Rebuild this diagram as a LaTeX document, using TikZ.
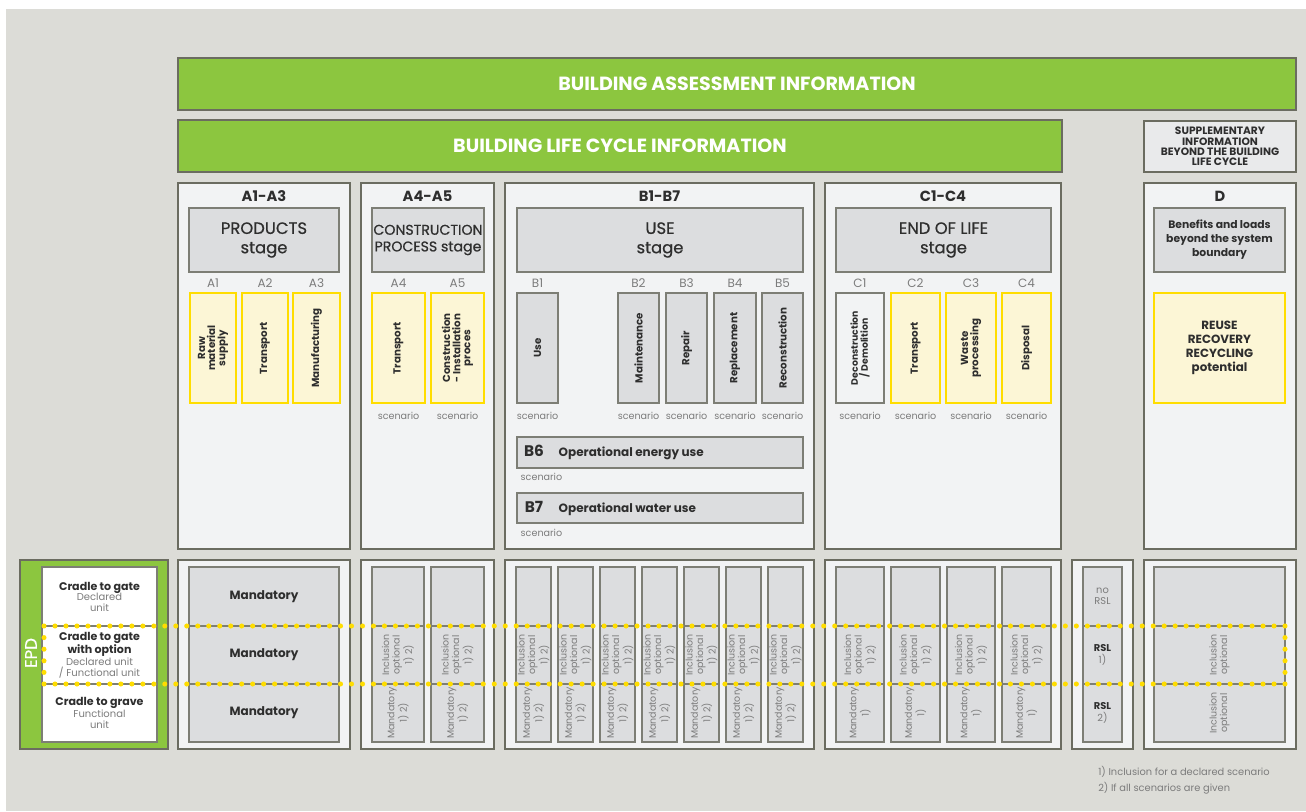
\documentclass[tikz,border=0pt]{standalone}
\usepackage{fontspec}
\setmainfont{Poppins}
\newfontfamily\medf{Poppins}[FakeBold=0.6]
\definecolor{bgc}{HTML}{DCDCD7}
\definecolor{framec}{HTML}{F2F3F4}
\definecolor{boxc}{HTML}{DCDDDF}
\definecolor{bordc}{HTML}{6B6C60}
\definecolor{ibord}{HTML}{7D7E75}
\definecolor{greenc}{HTML}{8CC63F}
\definecolor{yelc}{HTML}{FFDD00}
\definecolor{yelfill}{HTML}{FCF6D6}
\definecolor{darkc}{HTML}{2E2E2E}
\definecolor{lightc}{HTML}{7C7C7C}
\definecolor{suppc}{HTML}{E9EAEB}
\newcommand{\mybx}[7]{\node[#1, anchor=north west, minimum width={(#5-#3)*0.75pt}, minimum height={(#6-#4)*0.75pt}, inner sep=0pt, outer sep=0pt] (#2) at (#3,#4) {#7};}
\begin{document}
\begin{tikzpicture}[x=0.75pt,y=-0.75pt,
  frame/.style={draw=bordc, line width=1.5pt, fill=framec},
  greenbar/.style={draw=bordc, line width=1.5pt, fill=greenc},
  suppbox/.style={draw=bordc, line width=1.5pt, fill=suppc, align=center, text=darkc, font=\bfseries\fontsize{8}{7.7}\selectfont},
  gbox/.style={draw=ibord, line width=1.1pt, fill=boxc},
  lbox/.style={draw=ibord, line width=1.1pt, fill=framec},
  wbox/.style={draw=ibord, line width=1.1pt, fill=white},
  ybox/.style={draw=yelc, line width=1.9pt, fill=yelfill},
  ydot/.style={fill=yelc},
  ttl/.style={font=\bfseries\fontsize{14.3}{16}\selectfont, text=white},
  stg/.style={font=\bfseries\fontsize{11}{12}\selectfont, text=darkc},
  stgbox/.style={font=\medf\fontsize{12.3}{14.5}\selectfont, text=darkc, align=center},
  stgsm/.style={font=\medf\fontsize{10.6}{12.5}\selectfont, text=darkc, align=center},
  bentxt/.style={font=\bfseries\fontsize{8.1}{10.5}\selectfont, text=darkc, align=center},
  reusetxt/.style={font=\bfseries\fontsize{8.9}{10.6}\selectfont, text=darkc, align=center},
  lab/.style={font=\fontsize{9}{10}\selectfont, text=lightc},
  vt/.style={rotate=90, font=\bfseries\fontsize{7.7}{7.6}\selectfont, text=darkc, align=center},
  vtsm/.style={rotate=90, font=\bfseries\fontsize{7}{7.4}\selectfont, text=darkc, align=center},
  scen/.style={font=\fontsize{7.2}{8}\selectfont, text=lightc},
  bnum/.style={font=\bfseries\fontsize{11.5}{12}\selectfont, text=darkc},
  bop/.style={font=\bfseries\fontsize{9}{10}\selectfont, text=darkc},
  mand/.style={font=\bfseries\fontsize{9}{10}\selectfont, text=darkc},
  vlt/.style={rotate=90, font=\fontsize{7.1}{7.8}\selectfont, text=lightc, align=center},
  epdt/.style={font=\fontsize{7.5}{7.9}\selectfont, text=lightc, align=center},
  rslt/.style={font=\fontsize{7.4}{8.6}\selectfont, text=lightc, align=center},
  note/.style={font=\fontsize{7.4}{8}\selectfont, text=lightc, anchor=west, inner sep=0pt}
]
\useasboundingbox (0,0) rectangle (1306,811);
\fill[white] (0,0) rectangle (1306,811);
\fill[bgc] (6,9) rectangle (1306,811);

% header bars
\mybx{greenbar, ttl}{assess}{178}{58}{1296}{110}{BUILDING ASSESSMENT INFORMATION}
\mybx{greenbar, ttl}{lifecyc}{178}{120}{1062}{172}{BUILDING LIFE CYCLE INFORMATION}
\mybx{suppbox}{suppl}{1144}{121}{1296}{172}{SUPPLEMENTARY\\INFORMATION\\BEYOND THE BUILDING\\LIFE CYCLE}

% stage frames
\mybx{frame}{fA}{178}{183}{350}{549}{}
\mybx{frame}{fAB}{361}{183}{494}{549}{}
\mybx{frame}{fB}{505}{183}{814}{549}{}
\mybx{frame}{fC}{825}{183}{1061}{549}{}
\mybx{frame}{fD}{1144}{183}{1296}{549}{}

\node[stg] (tA) at (264,196) {A1-A3};
\node[stg] (tAB) at (427.5,196) {A4-A5};
\node[stg] (tB) at (659.5,196) {B1-B7};
\node[stg] (tC) at (943,196) {C1-C4};
\node[stg] (tD) at (1220,196) {D};

\mybx{gbox,stgbox}{prod}{189}{208}{339}{272}{PRODUCTS\\stage}
\mybx{gbox,stgsm}{cons}{372}{208}{484}{272}{CONSTRUCTION\\PROCESS stage}
\mybx{gbox,stgbox}{use}{517}{208}{803}{272}{USE\\stage}
\mybx{gbox,stgbox}{eol}{836}{208}{1051}{272}{END OF LIFE\\stage}
\mybx{gbox,bentxt}{ben}{1154}{208}{1285}{272}{Benefits and loads\\beyond the system\\boundary}

% yellow modules
\foreach \n/\a/\b/\t in {A1/190/236/{Raw\\material\\supply}, A2/242/288/{Transport}, A3/293/340/{Manufacturing}, A4/372/425/{Transport}, A5/431/484/{Construction\\- Installation\\proces}, C2/891/940/{Transport}, C3/946/996/{Waste\\processing}, C4/1002/1051/{Disposal}}{
  \mybx{ybox}{m\n}{\a}{293}{\b}{403}{}
  \node[vt] (v\n) at (m\n.center) {\t};
  \node[lab] (l\n) at ({(\a+\b)/2},283) {\n};
}
% gray modules
\foreach \n/\a/\b/\t in {B1/517/558/{Use}, B2/618/659/{Maintenance}, B3/666/707/{Repair}, B4/714/756/{Replacement}, B5/762/803/{Reconstruction}}{
  \mybx{gbox}{m\n}{\a}{293}{\b}{403}{}
  \node[vt] (v\n) at (m\n.center) {\t};
  \node[lab] (l\n) at ({(\a+\b)/2},283) {\n};
}
\mybx{lbox}{mC1}{836}{293}{884}{403}{}
\node[vtsm] (vC1) at (mC1.center) {Deconstruction\\/ Demolition};
\node[lab] (lC1) at (860,283) {C1};

\foreach \n in {A4,A5,B1,B2,B3,B4,B5,C1,C2,C3,C4}{
  \node[scen] (s\n) at (m\n.center |- 0,416) {scenario};
}

\mybx{ybox,reusetxt}{reuse}{1154}{293}{1285}{403}{REUSE\\RECOVERY\\RECYCLING\\potential}

% B6 / B7
\mybx{gbox}{mB6}{517}{437}{803}{468}{}
\node[bnum] (nB6) at (534,451) {B6};
\node[bop, anchor=west] (oB6) at (554,453) {Operational energy use};
\node[scen, anchor=west] (sB6) at (516,477) {scenario};
\mybx{gbox}{mB7}{517}{493}{803}{523}{}
\node[bnum] (nB7) at (534,507) {B7};
\node[bop, anchor=west] (oB7) at (554,509) {Operational water use};
\node[scen, anchor=west] (sB7) at (516,533) {scenario};

% ---------- bottom rows ----------
\mybx{greenbar}{epd}{20}{560}{168}{749}{}
\node[rotate=90, text=white, font=\medf\fontsize{12.5}{13}\selectfont] (epdlab) at (31,653) {EPD};
\mybx{wbox,epdt}{epdA}{42}{567}{157}{626}{{\bfseries\color{darkc}\fontsize{8.3}{7.9}\selectfont Cradle to gate}\\Declared\\unit}
\mybx{wbox,epdt}{epdB}{42}{626}{157}{684}{{\bfseries\color{darkc}\fontsize{8.3}{7.9}\selectfont Cradle to gate}\\{\bfseries\color{darkc}\fontsize{8.3}{7.9}\selectfont with option}\\Declared unit\\/ Functional unit}
\mybx{wbox,epdt}{epdC}{42}{684}{157}{742}{{\bfseries\color{darkc}\fontsize{8.3}{7.9}\selectfont Cradle to grave}\\Functional\\unit}

\mybx{frame}{bA}{178}{560}{350}{749}{}
\mybx{frame}{bAB}{361}{560}{494}{749}{}
\mybx{frame}{bB}{505}{560}{814}{749}{}
\mybx{frame}{bC}{825}{560}{1061}{749}{}
\mybx{frame}{bR}{1072}{560}{1133}{749}{}
\mybx{frame}{bD}{1144}{560}{1296}{749}{}

\mybx{gbox,mand}{rA1}{189}{567}{339}{626}{Mandatory}
\mybx{gbox,mand}{rA2}{189}{626}{339}{684}{Mandatory}
\mybx{gbox,mand}{rA3}{189}{684}{339}{742}{Mandatory}

\foreach \n/\a/\b in {A4/372/424, A5/431/484, B1/516/551, B2/558/593, B3/600/635, B4/642/677, B5/684/719, B6/726/761, B7/768/803}{
  \mybx{gbox}{c\n t}{\a}{567}{\b}{626}{}
  \mybx{gbox}{c\n m}{\a}{626}{\b}{684}{}
  \mybx{gbox}{c\n b}{\a}{684}{\b}{742}{}
  \node[vlt] (i\n) at (c\n m.center) {Inclusion\\optional\\1) 2)};
  \node[vlt] (k\n) at (c\n b.center) {Mandatory\\1) 2)};
}
\foreach \n/\a/\b in {C1/836/884, C2/891/940, C3/947/995, C4/1002/1051}{
  \mybx{gbox}{c\n t}{\a}{567}{\b}{626}{}
  \mybx{gbox}{c\n m}{\a}{626}{\b}{684}{}
  \mybx{gbox}{c\n b}{\a}{684}{\b}{742}{}
  \node[vlt] (i\n) at (c\n m.center) {Inclusion\\optional\\1) 2)};
  \node[vlt] (k\n) at (c\n b.center) {Mandatory\\1)};
}

\mybx{gbox,rslt}{rR1}{1083}{567}{1122}{626}{no\\RSL}
\mybx{gbox,rslt}{rR2}{1083}{626}{1122}{684}{{\bfseries\color{darkc}RSL}\\1)}
\mybx{gbox,rslt}{rR3}{1083}{684}{1122}{742}{{\bfseries\color{darkc}RSL}\\2)}

\mybx{gbox}{rD1}{1154}{567}{1285}{626}{}
\mybx{gbox}{rD2}{1154}{626}{1285}{684}{}
\mybx{gbox}{rD3}{1154}{684}{1285}{742}{}
\node[vlt] (iD2) at (rD2.center) {Inclusion\\optional};
\node[vlt] (iD3) at (rD3.center) {Inclusion\\optional};

% yellow dotted band (round dots)
\foreach \k in {0,...,113}{
  \fill[ydot] ({44+\k*10.9823},626) circle[radius=1.9pt];
  \fill[ydot] ({44+\k*10.9823},684) circle[radius=1.9pt];
}
\foreach \k in {1,...,4}{
  \fill[ydot] (44,{626+\k*11.6}) circle[radius=1.9pt];
  \fill[ydot] (1285,{626+\k*11.6}) circle[radius=1.9pt];
}

% notes
\node[note] (n1) at (1098,772) {1) Inclusion for a declared scenario};
\node[note] (n2) at (1098,788) {2) If all scenarios are given};
\end{tikzpicture}
\end{document}
